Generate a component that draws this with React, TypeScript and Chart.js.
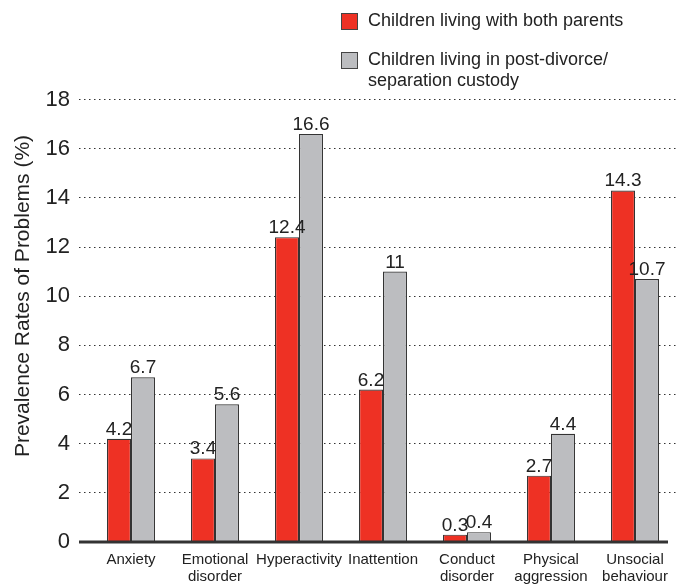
import React, { useEffect, useRef } from "react";
import { Chart, registerables } from "chart.js";

Chart.register(...registerables);

const categories: string[][] = [
  ["Anxiety"],
  ["Emotional", "disorder"],
  ["Hyperactivity"],
  ["Inattention"],
  ["Conduct", "disorder"],
  ["Physical", "aggression"],
  ["Unsocial", "behaviour"],
];
const bothParents = [4.2, 3.4, 12.4, 6.2, 0.3, 2.7, 14.3];
const postDivorce = [6.7, 5.6, 16.6, 11, 0.4, 4.4, 10.7];
const seriesLegend: string[][] = [
  ["Children living with both parents"],
  ["Children living in post-divorce/", "separation custody"],
];
const seriesColors = ["#EE3124", "#BCBDC0"];
const yMin = 0;
const yMax = 18;
const yStep = 2;
const yTitle = "Prevalence Rates of Problems (%)";

const FONT = "'Liberation Sans', Arial, Helvetica, sans-serif";
const DOTS = [1.5, 3.5];

const extrasPlugin = {
  id: "extras",
  afterDatasetsDraw(chart: any) {
    const ctx = chart.ctx;
    const y = chart.scales.y;
    // data labels
    ctx.save();
    ctx.font = `19px ${FONT}`;
    ctx.fillStyle = "#222";
    ctx.textAlign = "center";
    ctx.textBaseline = "alphabetic";
    chart.data.datasets.forEach((ds: any, di: number) => {
      const meta = chart.getDatasetMeta(di);
      meta.data.forEach((bar: any, i: number) => {
        ctx.fillText(String(ds.data[i]), bar.x, bar.y - 4);
      });
    });
    // baseline
    const y0 = y.getPixelForValue(0);
    ctx.strokeStyle = "#333";
    ctx.lineWidth = 3;
    ctx.beginPath();
    ctx.moveTo(79, y0);
    ctx.lineTo(668, y0);
    ctx.stroke();
    ctx.restore();
  },
  afterDraw(chart: any) {
    const ctx = chart.ctx;
    ctx.save();
    // y title
    ctx.translate(23, 296);
    ctx.rotate(-Math.PI / 2);
    ctx.font = `21px ${FONT}`;
    ctx.fillStyle = "#222";
    ctx.textAlign = "center";
    ctx.textBaseline = "middle";
    ctx.fillText(yTitle, 0, 0);
    ctx.restore();
    // legend
    ctx.save();
    ctx.font = `18px ${FONT}`;
    ctx.textBaseline = "middle";
    ctx.textAlign = "left";
    const starts = [13, 52];
    chart.data.datasets.forEach((ds: any, di: number) => {
      const top = starts[di];
      ctx.fillStyle = ds.backgroundColor;
      ctx.fillRect(341, top, 16, 16);
      ctx.strokeStyle = "#444";
      ctx.lineWidth = 1;
      ctx.strokeRect(341.5, top + 0.5, 16, 16);
      ctx.fillStyle = "#222";
      seriesLegend[di].forEach((line, li) => {
        ctx.fillText(line, 368, top + 8 + li * 21);
      });
    });
    ctx.restore();
  },
};

export default function App() {
  const ref = useRef<HTMLCanvasElement | null>(null);
  useEffect(() => {
    if (!ref.current) return;
    const chart = new Chart(ref.current, {
      type: "bar",
      data: {
        labels: categories,
        datasets: [
          {
            label: seriesLegend[0].join(" "),
            data: bothParents,
            backgroundColor: seriesColors[0],
            borderColor: "#333",
            borderWidth: 1.2,
            categoryPercentage: 0.571,
            barPercentage: 1,
          },
          {
            label: seriesLegend[1].join(" "),
            data: postDivorce,
            backgroundColor: seriesColors[1],
            borderColor: "#333",
            borderWidth: 1.2,
            categoryPercentage: 0.571,
            barPercentage: 1,
          },
        ],
      },
      options: {
        animation: false,
        responsive: false,
        maintainAspectRatio: false,
        layout: { padding: { left: 0, right: 11, top: 99.5, bottom: 0 } },
        plugins: {
          legend: { display: false },
          tooltip: { enabled: false },
          title: { display: false },
        },
        scales: {
          x: {
            grid: { display: false, drawTicks: false },
            border: { display: false },
            ticks: {
              color: "#222",
              padding: 9,
              maxRotation: 0,
              autoSkip: false,
              font: { family: FONT, size: 15, lineHeight: 1.15 },
            },
            afterFit(scale: any) {
              scale.height = 42;
            },
          },
          y: {
            min: yMin,
            max: yMax,
            border: { display: false, dash: DOTS },
            grid: {
              color: (c: any) => (c.tick && c.tick.value === 0 ? "rgba(0,0,0,0)" : "#333"),
              lineWidth: 1,
              tickLength: 10,
              drawTicks: true,
              tickBorderDash: DOTS,
            },
            ticks: {
              stepSize: yStep,
              color: "#222",
              padding: 9,
              font: { family: FONT, size: 22 },
            },
            afterFit(scale: any) {
              scale.width = 89;
            },
          },
        },
      },
      plugins: [extrasPlugin],
    });
    return () => chart.destroy();
  }, []);
  return (
    <div style={{ position: "absolute", left: 0, top: 0, width: 688, height: 584, background: "#fff" }}>
      <canvas ref={ref} width={688} height={584} style={{ width: 688, height: 584 }} />
    </div>
  );
}
